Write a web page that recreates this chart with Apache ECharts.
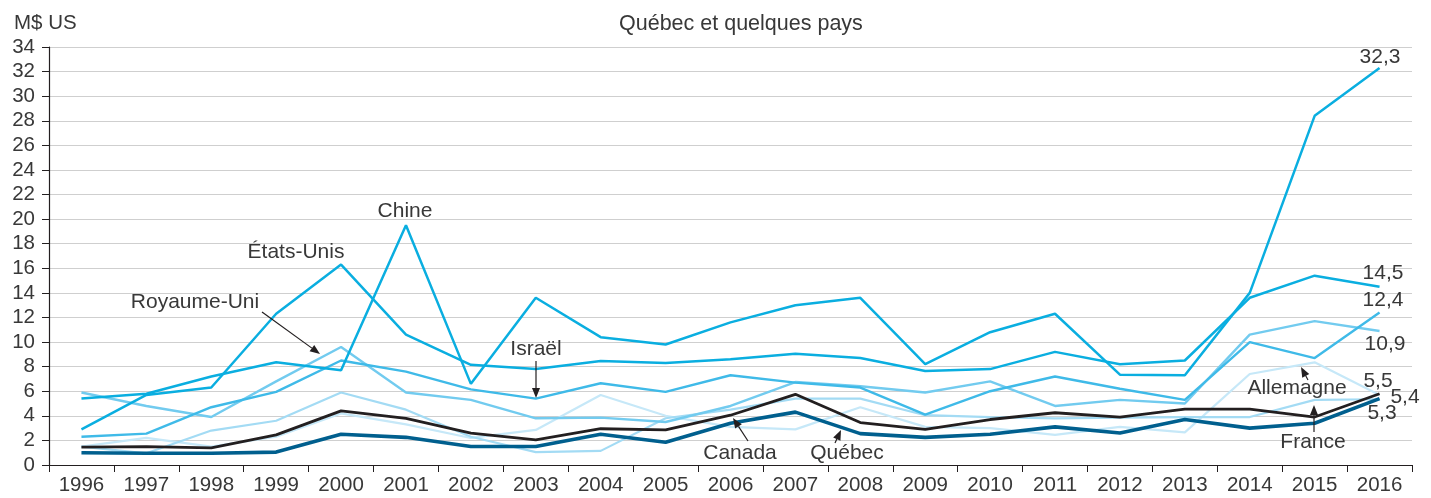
<!DOCTYPE html>
<html>
<head>
<meta charset="utf-8">
<script src="https://cdn.jsdelivr.net/npm/echarts@6/dist/echarts.min.js"></script>
<style>
html, body { margin: 0; padding: 0; background: #fff; }
#container { width: 1431px; height: 498px; }
</style>
</head>
<body>
<div id="container"></div>
<script>
var years = ['1996', '1997', '1998', '1999', '2000', '2001', '2002', '2003', '2004', '2005', '2006',
    '2007', '2008', '2009', '2010', '2011', '2012', '2013', '2014', '2015', '2016'];

var chine = [5.4, 5.8, 7.2, 8.35, 7.7, 19.5, 6.6, 13.6, 10.4, 9.8, 11.6, 13.0, 13.6, 8.2, 10.8, 12.3, 7.35, 7.3, 14.0, 28.4, 32.3];
var etatsUnis = [2.9, 5.7, 6.3, 12.3, 16.3, 10.6, 8.15, 7.8, 8.45, 8.3, 8.6, 9.05, 8.7, 7.65, 7.8, 9.2, 8.2, 8.5, 13.6, 15.4, 14.5];
var israel = [2.3, 2.55, 4.7, 5.95, 8.5, 7.6, 6.15, 5.4, 6.65, 5.95, 7.3, 6.7, 6.3, 4.1, 6.0, 7.2, 6.2, 5.3, 10.0, 8.7, 12.4];
var royaumeUni = [5.9, 4.8, 3.9, 6.8, 9.6, 5.9, 5.3, 3.8, 3.85, 3.5, 4.8, 6.75, 6.4, 5.9, 6.8, 4.8, 5.3, 5.0, 10.6, 11.7, 10.9];
var france = [1.5, 0.95, 2.8, 3.6, 5.9, 4.5, 2.3, 1.05, 1.15, 3.8, 4.5, 5.4, 5.4, 4.05, 3.9, 3.8, 3.85, 3.9, 3.9, 5.3, 5.35];
var allemagne = [1.5, 2.2, 1.5, 2.3, 4.2, 3.3, 2.2, 2.85, 5.7, 4.0, 3.1, 2.9, 4.7, 3.1, 3.0, 2.45, 3.1, 2.65, 7.4, 8.35, 5.7];
var canada = [1.45, 1.5, 1.4, 2.45, 4.4, 3.8, 2.6, 2.05, 2.95, 2.85, 4.05, 5.75, 3.45, 2.9, 3.7, 4.25, 3.9, 4.55, 4.55, 3.9, 5.8];
var quebec = [1.0, 0.95, 0.95, 1.05, 2.5, 2.25, 1.5, 1.5, 2.5, 1.85, 3.4, 4.3, 2.55, 2.25, 2.5, 3.1, 2.6, 3.7, 3.0, 3.4, 5.4];

var yTicks = { min: 0, max: 34, interval: 2 };

// annotation texts and arrows (pixels)
var notes = [
    ['Chine', 405, 211], ['États-Unis', 296, 252], ['Royaume-Uni', 195, 302],
    ['Israël', 536, 349], ['Canada', 740, 453], ['Québec', 847, 453],
    ['Allemagne', 1297, 388], ['France', 1313, 442],
    ['32,3', 1380, 57], ['14,5', 1383, 273], ['12,4', 1383, 300], ['10,9', 1385, 344],
    ['5,5', 1378, 381], ['5,4', 1405, 397], ['5,3', 1382, 413]
];
var arrows = [
    [262, 312, 320, 354], [536, 361, 536, 398], [748, 441, 733, 418],
    [835, 443, 841, 430], [1308, 380, 1301, 367], [1314, 432, 1314, 405]
];

var FONT = '"Liberation Sans", Arial, sans-serif';
var TXT = '#383838';

var dom = document.getElementById('container');
var myChart = echarts.init(dom);

function line(name, data, color, width) {
    return {
        name: name,
        type: 'line',
        data: data,
        symbol: 'none',
        lineStyle: { color: color, width: width },
        itemStyle: { color: color },
        emphasis: { disabled: true },
        animation: false
    };
}

var graphics = [];
notes.forEach(function (n) {
    graphics.push({
        type: 'text',
        x: n[1], y: n[2],
        style: {
            text: n[0], fill: TXT, font: '21px ' + FONT,
            align: 'center', verticalAlign: 'middle'
        },
        z: 100
    });
});
arrows.forEach(function (a) {
    var dx = a[2] - a[0], dy = a[3] - a[1];
    var len = Math.sqrt(dx * dx + dy * dy);
    var ux = dx / len, uy = dy / len;
    var hl = 10, hw = 4;
    var bx = a[2] - ux * hl, by = a[3] - uy * hl;
    graphics.push({
        type: 'line',
        shape: { x1: a[0], y1: a[1], x2: bx, y2: by },
        style: { stroke: '#231f20', lineWidth: 1.2 },
        z: 100
    });
    graphics.push({
        type: 'polygon',
        shape: { points: [[a[2], a[3]], [bx - uy * hw, by + ux * hw], [bx + uy * hw, by - ux * hw]] },
        style: { fill: '#231f20' },
        z: 100
    });
});

var option = {
    backgroundColor: '#fff',
    animation: false,
    title: [{
        text: 'Québec et quelques pays',
        left: 614,
        top: 8,
        textStyle: { fontSize: 21.5, fontWeight: 'normal', color: TXT, fontFamily: FONT }
    }, {
        text: 'M$ US',
        left: 9,
        top: 8,
        textStyle: { fontSize: 20.5, fontWeight: 'normal', color: TXT, fontFamily: FONT }
    }],
    grid: { left: 49, right: 19, top: 47, bottom: 33, containLabel: false },
    xAxis: {
        type: 'category',
        data: years,
        boundaryGap: true,
        axisLine: { lineStyle: { color: '#231f20', width: 1.2 } },
        axisTick: { show: true, length: 7, lineStyle: { color: '#231f20' } },
        axisLabel: { fontSize: 20.5, color: TXT, margin: 10, fontFamily: FONT },
        splitLine: { show: false }
    },
    yAxis: {
        type: 'value',
        min: yTicks.min,
        max: yTicks.max,
        interval: yTicks.interval,
        axisLine: { show: true, lineStyle: { color: '#231f20', width: 1.2 } },
        axisTick: { show: true, length: 7, lineStyle: { color: '#231f20' } },
        axisLabel: { fontSize: 20.5, color: TXT, margin: 14, fontFamily: FONT },
        splitLine: { lineStyle: { color: '#cfcfcf', width: 1.2 } }
    },
    series: [
        line('Allemagne', allemagne, '#c6e8f8', 2.2),
        line('France', france, '#a3dbf4', 2.2),
        line('Royaume-Uni', royaumeUni, '#72cbef', 2.4),
        line('Israël', israel, '#3fbae8', 2.4),
        line('États-Unis', etatsUnis, '#0aaee0', 2.5),
        line('Chine', chine, '#0aaee0', 2.5),
        line('Canada', canada, '#231f20', 2.8),
        line('Québec', quebec, '#005f8e', 3.6)
    ],
    graphic: graphics
};

myChart.setOption(option, true);
</script>
</body>
</html>
